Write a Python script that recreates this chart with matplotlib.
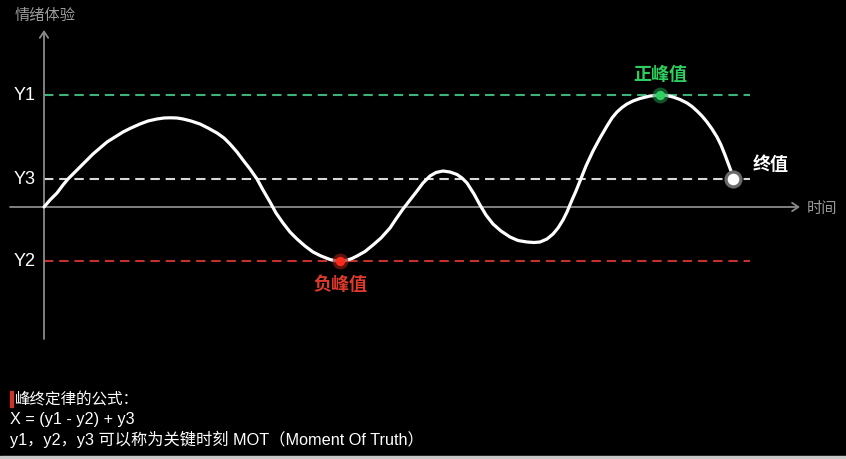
import matplotlib
matplotlib.use("Agg")
import matplotlib.pyplot as plt
from matplotlib.patches import Rectangle

# ---- data (arbitrary units, axes cross at 0,0) ----
time_pts = [0, 6, 13, 19, 24, 30, 36, 43, 49, 56,
            63, 71, 79, 87, 96, 104, 113, 120, 126, 133,
            139, 147, 156, 164, 173, 180, 186, 193, 199, 206,
            213, 219, 226, 232, 239, 246, 253, 261, 269, 277,
            286, 291, 296, 302, 308, 313, 321, 329, 337, 346,
            352, 359, 366, 373, 379, 386, 392, 399, 406, 413,
            418, 423, 430, 436, 442, 449, 457, 466, 474, 483,
            490, 496, 503, 509, 514, 519, 523, 528, 532, 536,
            542, 549, 556, 563, 568, 573, 578, 583, 589, 596,
            606, 616, 623, 629, 636, 643, 648, 653, 658, 663,
            668, 673, 677, 681, 684, 687, 689]
emotion_pts = [0, 7, 14, 22, 28, 34, 40, 47, 53, 59,
               65, 70, 75, 79, 83, 86, 88, 89, 89.2, 89,
               88, 86, 83, 79, 74, 69, 63, 55, 47, 38,
               28, 17, 5, -6, -16, -25, -32, -39, -45, -49,
               -52.5, -53.7, -54, -53.5, -51.5, -49, -44.5, -38, -31, -21,
               -12, -2, 7, 16, 24, 31, 34.5, 36, 35, 32.5,
               29, 24, 13, 2, -8, -17, -24, -30, -33.5, -35,
               -35.5, -35, -32, -27, -21, -13, -5, 7, 16, 26,
               41, 56, 69, 81, 89, 95, 99.5, 103, 106, 108.5,
               111, 112, 111.5, 110, 107.5, 104, 100.5, 96, 91, 85,
               78, 70, 62, 52, 44, 36, 28]

level_names = ["Y1", "Y3", "Y2"]
level_values = [112, 28, -54]
level_colors = ["#3db27a", "#d8d8d8", "#c4302b"]

peak_label = "正峰值"
trough_label = "负峰值"
end_label = "终值"
y_axis_label = "情绪体验"
x_axis_label = "时间"
note_lines = ["峰终定律的公式：",
              "X = (y1 - y2) + y3",
              "y1，y2，y3 可以称为关键时刻 MOT（Moment Of Truth）"]

FONT = ["Noto Sans CJK SC", "DejaVu Sans"]
NOTE_FONT = ["Liberation Sans", "Noto Sans CJK SC", "DejaVu Sans"]
plt.rcParams["font.family"] = FONT

fig = plt.figure(figsize=(8.46, 4.6), dpi=100, facecolor="black")
ax = fig.add_axes([0, 0, 1, 1])
ax.set_facecolor("black")
ax.set_xlim(-44, 802)
ax.set_ylim(-252, 208)
ax.axis("off")

axis_color = "#8a8a8a"
# axes with open arrow heads
ax.annotate("", xy=(0, 177), xytext=(0, -132),
            arrowprops=dict(arrowstyle="->,head_length=0.45,head_width=0.3",
                            color=axis_color, lw=1.3, shrinkA=0, shrinkB=0))
ax.annotate("", xy=(756, 0), xytext=(-34, 0),
            arrowprops=dict(arrowstyle="->,head_length=0.45,head_width=0.3",
                            color=axis_color, lw=1.3, shrinkA=0, shrinkB=0))
ax.text(-29, 193, y_axis_label, color="#9a9a9a", fontsize=11, ha="left", va="center")
ax.text(763, -1, x_axis_label, color="#9a9a9a", fontsize=11, ha="left", va="center")

# reference levels
for name, val, col in zip(level_names, level_values, level_colors):
    ln, = ax.plot([0, 706], [val, val], color=col, lw=1.5, zorder=2)
    ln.set_dashes((4.5, 2.8))
    ax.text(-8, val, name, color="white", fontsize=13, ha="right", va="center",
            family=["Liberation Sans", "DejaVu Sans"])

# curve
ax.plot(time_pts, emotion_pts, color="white", lw=2.3, solid_capstyle="round",
        solid_joinstyle="round", zorder=4)

# key points
i_max = emotion_pts.index(max(emotion_pts))
i_min = emotion_pts.index(min(emotion_pts))
tx, ty = time_pts[i_max], emotion_pts[i_max]
bx, by = time_pts[i_min], emotion_pts[i_min]
ex, ey = time_pts[-1], emotion_pts[-1]

ax.scatter([tx], [ty], s=130, color="#1f8a45", alpha=0.6, zorder=5, linewidths=0)
ax.scatter([tx], [ty], s=45, color="#2fd062", zorder=6, linewidths=0)
ax.scatter([bx], [by], s=130, color="#8a1a14", alpha=0.7, zorder=5, linewidths=0)
ax.scatter([bx], [by], s=45, color="#ff2a1a", zorder=6, linewidths=0)
ax.scatter([ex], [ey], s=170, color="#6a6a6a", zorder=5, linewidths=0)
ax.scatter([ex], [ey], s=70, color="white", zorder=6, linewidths=0)

ax.text(tx, ty + 21, peak_label, color="#2fcf5f", fontsize=13, fontweight="bold",
        ha="center", va="center")
ax.text(bx, by - 23, trough_label, color="#dc3a2c", fontsize=13, fontweight="bold",
        ha="center", va="center")
ax.text(ex + 20, ey + 15, end_label, color="white", fontsize=13, fontweight="bold",
        ha="left", va="center")

# notes at the bottom
ax.add_patch(Rectangle((-34, -200), 3, 16, color="#c8362b", zorder=3))
ax.text(-29, -192, note_lines[0], color="white", fontsize=11.2, ha="left", va="center",
        family=FONT)
ax.text(-34, -212, note_lines[1], color="white", fontsize=11.7, ha="left", va="center",
        family=NOTE_FONT)
ax.text(-34, -231, note_lines[2], color="white", fontsize=11.7, ha="left", va="center",
        family=NOTE_FONT)

# thin light strip at the very bottom
fig.patches.append(Rectangle((0, 0), 1, 3 / 460, transform=fig.transFigure,
                             color="#c8c8c8", zorder=10))

fig.savefig("out.png", dpi=100, facecolor="black")
